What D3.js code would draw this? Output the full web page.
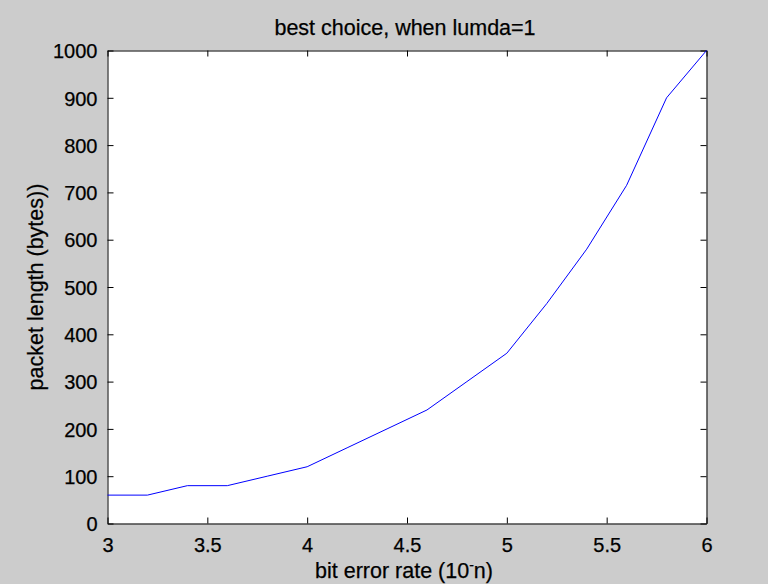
<!DOCTYPE html>
<html>
<head>
<meta charset="utf-8">
<script src="https://cdn.jsdelivr.net/npm/d3@7/dist/d3.min.js"></script>
<style>
  html, body { margin: 0; padding: 0; background: #cccccc; }
  svg { display: block; }
  text { font-family: "Liberation Sans", Arial, sans-serif; fill: #000; }
</style>
</head>
<body>
<svg id="chart" width="768" height="584"></svg>
<script>
const berValues = [3, 3.2, 3.4, 3.6, 3.8, 4, 4.2, 4.4, 4.6, 4.8, 5, 5.2, 5.4, 5.6, 5.8, 6];
const packetLength = [60, 60, 80, 80, 100, 120, 160, 200, 240, 300, 360, 465, 580, 715, 900, 1000];
const xTicks = [3, 3.5, 4, 4.5, 5, 5.5, 6];
const yTicks = [0, 100, 200, 300, 400, 500, 600, 700, 800, 900, 1000];
const titleText = "best choice, when lumda=1";
const yLabelText = "packet length (bytes))";

const W = 768, H = 584;
const m = { left: 107.5, right: 61.5, top: 50.5, bottom: 60.5 };
const svg = d3.select("#chart");
svg.append("rect").attr("width", W).attr("height", H).attr("fill", "#cccccc");

const x = d3.scaleLinear().domain([3, 6]).range([m.left, W - m.right]);
const y = d3.scaleLinear().domain([0, 1000]).range([H - m.bottom, m.top]);

svg.append("rect")
  .attr("x", m.left).attr("y", m.top)
  .attr("width", x(6) - x(3)).attr("height", y(0) - y(1000))
  .attr("fill", "#ffffff");

const tickLen = 6;
const fs = 20;
const lfs = 21.5;

// bottom axis
const gx = svg.append("g").attr("transform", `translate(0,${y(0)})`)
  .call(d3.axisBottom(x).tickValues(xTicks).tickFormat(d3.format("")).tickSizeInner(-tickLen).tickSizeOuter(0).tickPadding(14));
// top axis ticks
const gxt = svg.append("g").attr("transform", `translate(0,${y(1000)})`)
  .call(d3.axisTop(x).tickValues(xTicks).tickFormat("").tickSizeInner(-tickLen).tickSizeOuter(0));
// left axis
const gy = svg.append("g").attr("transform", `translate(${x(3)},0)`)
  .call(d3.axisLeft(y).tickValues(yTicks).tickFormat(d3.format("")).tickSizeInner(-tickLen).tickSizeOuter(0).tickPadding(10));
// right axis ticks
const gyr = svg.append("g").attr("transform", `translate(${x(6)},0)`)
  .call(d3.axisRight(y).tickValues(yTicks).tickFormat("").tickSizeInner(-tickLen).tickSizeOuter(0));

[gx, gxt, gy, gyr].forEach(g => {
  g.select(".domain").attr("stroke", "#000").attr("stroke-width", 1);
  g.selectAll(".tick line").attr("stroke", "#000").attr("stroke-width", 1);
  g.selectAll(".tick text").attr("font-size", fs).attr("font-family", "Liberation Sans, Arial, sans-serif")
    .attr("fill", "#000").attr("stroke", "#000").attr("stroke-width", 0.25);
});
gx.selectAll(".tick text").attr("dy", "0.71em");
gy.selectAll(".tick text").attr("dy", "0.36em");

// line
const line = d3.line().x((d, i) => x(berValues[i])).y(d => y(d));
svg.append("path")
  .datum(packetLength)
  .attr("d", line)
  .attr("fill", "none")
  .attr("stroke", "#0000ff")
  .attr("stroke-width", 1);

// title
svg.append("text")
  .attr("x", (x(3) + x(6)) / 2 - 2).attr("y", 35)
  .attr("text-anchor", "middle").attr("font-size", lfs)
  .attr("stroke", "#000").attr("stroke-width", 0.25)
  .text(titleText);

// x label
const xl = svg.append("text")
  .attr("x", (x(3) + x(6)) / 2 - 3).attr("y", 578)
  .attr("text-anchor", "middle").attr("font-size", lfs)
  .attr("stroke", "#000").attr("stroke-width", 0.25);
xl.append("tspan").text("bit error rate (10");
xl.append("tspan").attr("dy", -8).attr("font-size", 14).text("-");
xl.append("tspan").attr("dy", 8).text("n)");

// y label
svg.append("text")
  .attr("transform", `translate(43,${(y(0) + y(1000)) / 2}) rotate(-90)`)
  .attr("text-anchor", "middle").attr("font-size", lfs)
  .attr("stroke", "#000").attr("stroke-width", 0.25)
  .text(yLabelText);
</script>
</body>
</html>
